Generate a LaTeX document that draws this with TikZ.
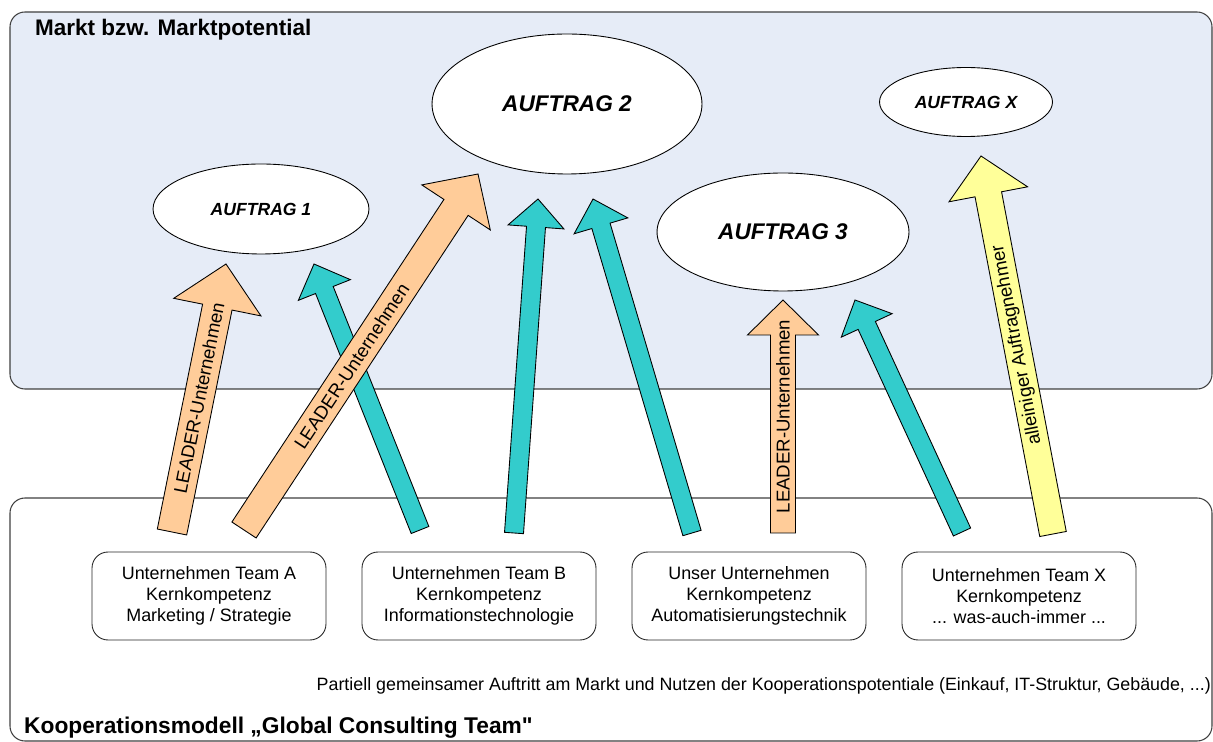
\documentclass[tikz,border=0pt]{standalone}
\usepackage{fontspec}
\setmainfont{Liberation Sans}
\usetikzlibrary{shapes.geometric,calc}

\definecolor{marktblue}{RGB}{230,236,247}
\definecolor{leaderorange}{RGB}{255,204,153}
\definecolor{teamcyan}{RGB}{51,204,204}
\definecolor{soloyellow}{RGB}{255,255,153}

\begin{document}
\begin{tikzpicture}[x=0.02cm, y=-0.02cm,
		shaftw/.store in=\shaftw, headw/.store in=\headw, headl/.store in=\headl,
		blockarrow/.style={draw=black, line width=0.5pt, line join=miter, to path={
			($(\tikztotarget)!\headl!(\tikztostart)$) coordinate (hb)
			($(\tikztostart)!\shaftw!90:(\tikztotarget)$)
			-- ($(hb)!\shaftw!90:(\tikztotarget)$) -- ($(hb)!\headw!90:(\tikztotarget)$)
			-- (\tikztotarget)
			-- ($(hb)!\headw!-90:(\tikztotarget)$) -- ($(hb)!\shaftw!-90:(\tikztotarget)$)
			-- ($(\tikztostart)!\shaftw!-90:(\tikztotarget)$) -- cycle}},
		leaderarrow/.style={blockarrow, fill=leaderorange, shaftw=0.29cm, headw=0.82cm, headl=0.8cm},
		teamarrow/.style={blockarrow, fill=teamcyan, shaftw=0.19cm, headw=0.56cm, headl=0.56cm},
		soloarrow/.style={blockarrow, fill=soloyellow, shaftw=0.27cm, headw=0.8cm, headl=0.78cm},
		arrowlabel/.style={sloped, allow upside down, font=\fontsize{10.6}{12}\selectfont},
		auftrag/.style={ellipse, draw=black, line width=0.5pt, fill=white, inner sep=0pt},
		teambox/.style={draw=black!85, line width=0.5pt, fill=white, rounded corners=0.32cm,
			minimum width=4.68cm, minimum height=1.76cm, align=center,
			font=\fontsize{10.2}{11.9}\selectfont},
		framebox/.style={draw=black!75, line width=0.6pt, rounded corners=0.3cm}]
		\useasboundingbox (0, 0) rectangle (1213, 742);

		\draw[framebox, fill=marktblue] (10, 12) rectangle (1212, 389);
		\draw[framebox, fill=white] (10, 498) rectangle (1212, 741);

		\path (29, 30)    node[anchor=west, font=\fontsize{12.8}{15}\selectfont\bfseries] (markt) {Markt bzw. Marktpotential}
		      (18, 728)   node[anchor=west, font=\fontsize{12.95}{15}\selectfont\bfseries] (modell) {Kooperationsmodell „Global Consulting Team{\addfontfeature{Ligatures=TeXOff}"}}
		      (1217, 686) node[anchor=east, font=\fontsize{10.15}{12}\selectfont] (partiell) {Partiell gemeinsamer Auftritt am Markt und Nutzen der Kooperationspotentiale (Einkauf, IT-Struktur, Gebäude, ...)};

		\path (261, 209)   node[auftrag, minimum width=4.32cm, minimum height=1.8cm, font=\fontsize{10}{12}\selectfont\bfseries\itshape] (a1) {AUFTRAG 1}
		      (567, 104)   node[auftrag, minimum width=5.4cm, minimum height=2.8cm, font=\fontsize{12.9}{15}\selectfont\bfseries\itshape] (a2) {AUFTRAG 2}
		      (783, 232)   node[auftrag, minimum width=5.04cm, minimum height=2.36cm, font=\fontsize{12.9}{15}\selectfont\bfseries\itshape] (a3) {AUFTRAG 3}
		      (966, 102)   node[auftrag, minimum width=3.46cm, minimum height=1.38cm, font=\fontsize{10}{12}\selectfont\bfseries\itshape] (ax) {AUFTRAG X};

		\path (209, 596)   node[teambox] (teamA) {Unternehmen Team A\\Kernkompetenz\\Marketing / Strategie}
		      (479, 596)   node[teambox] (teamB) {Unternehmen Team B\\Kernkompetenz\\Informationstechnologie}
		      (749, 596)   node[teambox] (unser) {Unser Unternehmen\\Kernkompetenz\\Automatisierungstechnik}
		      (1019, 596)  node[teambox] (teamX) {Unternehmen Team X\\Kernkompetenz\\... was-auch-immer ...};

		\coordinate (o1s) at (172, 532);  \coordinate (o1e) at (226, 264);
		\coordinate (o2s) at (244, 530);  \coordinate (o2e) at (478, 174);
		\coordinate (o3s) at (783, 533);  \coordinate (o3e) at (783, 300);
		\coordinate (c1s) at (420, 530);  \coordinate (c1e) at (314, 264);
		\coordinate (c2s) at (514, 533);  \coordinate (c2e) at (538, 199);
		\coordinate (c3s) at (692, 533);  \coordinate (c3e) at (593, 199);
		\coordinate (c4s) at (962, 532);  \coordinate (c4e) at (855, 300);
		\coordinate (y1s) at (1053, 534); \coordinate (y1e) at (981, 156);

		\foreach \s/\e in {c1s/c1e, c2s/c2e, c3s/c3e, c4s/c4e}
			\draw[teamarrow] (\s) to (\e);

		\draw[leaderarrow, shaftw=0.3cm, headw=0.89cm, headl=0.88cm] (o1s) to (o1e);
		\draw[leaderarrow] (o2s) to (o2e);
		\draw[leaderarrow, shaftw=0.25cm, headw=0.71cm, headl=0.7cm] (o3s) to (o3e);
		\draw[soloarrow] (y1s) to (y1e);

		\path (o1s) -- (o1e) node[arrowlabel, pos=0.5] (l1) {LEADER-Unternehmen};
		\path (o2s) -- (o2e) node[arrowlabel, pos=0.46] (l2) {LEADER-Unternehmen};
		\path (o3s) -- (o3e) node[arrowlabel, pos=0.5] (l3) {LEADER-Unternehmen};
		\path (y1s) -- (y1e) node[arrowlabel, pos=0.5] (l4) {alleiniger Auftragnehmer};
	\end{tikzpicture}
\end{document}
